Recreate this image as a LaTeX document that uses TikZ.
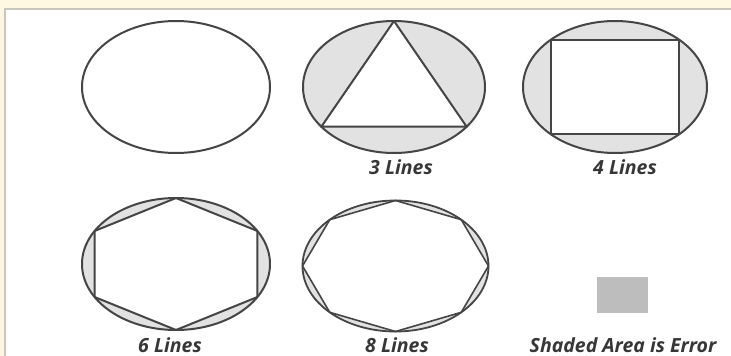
\documentclass[tikz,border=0pt]{standalone}
\usepackage{fontspec}
\setmainfont{Open Sans}
\usetikzlibrary{calc}
\definecolor{cream}{HTML}{FEF8E3}
\definecolor{frame}{HTML}{C9C7BD}
\definecolor{ink}{HTML}{454545}
\definecolor{errgray}{HTML}{E2E2E2}
\definecolor{legendgray}{HTML}{BDBDBD}
\tikzset{
  outline/.style={draw=ink, line width=2pt},
  chord/.style={draw=ink, line width=2pt, line join=round},
  lab/.style={font=\fontsize{19.5}{19.5}\selectfont\bfseries\itshape, text=ink!80!black, inner sep=0pt, anchor=center}
}
\begin{document}
\begin{tikzpicture}[x=1pt,y=-1pt]
\useasboundingbox (0,0) rectangle (731,356);
\fill[cream] (0,0) rectangle (731,356);
\fill[white] (5,9) rectangle (731,356);
\draw[frame, line width=1.5pt] (5,356) -- (5,9) -- (731,9);

% plain ellipse
\draw[outline] (176,87) ellipse [x radius=94, y radius=66];

% 3 lines
\coordinate (c3) at (394,87);
\fill[errgray] (c3) ellipse [x radius=91, y radius=66];
\path ($(c3)+(-90:91 and 66)$) coordinate (t1)
      ($(c3)+(-217:91 and 66)$) coordinate (t2)
      ($(c3)+(-323:91 and 66)$) coordinate (t3);
\fill[white] (t1) -- (t2) -- (t3) -- cycle;
\draw[chord] (t1) -- (t2) -- (t3) -- cycle;
\draw[outline] (c3) ellipse [x radius=91, y radius=66];
\node[lab] (l3) at (401,167) {3 Lines};

% 4 lines
\coordinate (c4) at (615,87);
\fill[errgray] (c4) ellipse [x radius=92, y radius=66];
\path ($(c4)+(-46:92 and 66)$) coordinate (r1)
      ($(c4)+(-134:92 and 66)$) coordinate (r2)
      ($(c4)+(134:92 and 66)$) coordinate (r3)
      ($(c4)+(46:92 and 66)$) coordinate (r4);
\fill[white] (r1) -- (r2) -- (r3) -- (r4) -- cycle;
\draw[chord] (r1) -- (r2) -- (r3) -- (r4) -- cycle;
\draw[outline] (c4) ellipse [x radius=92, y radius=66];
\node[lab] (l4) at (625,167) {4 Lines};

% 6 lines
\coordinate (c6) at (176,264);
\fill[errgray] (c6) ellipse [x radius=94, y radius=66];
\foreach \a [count=\i] in {90,30,-30,-90,-150,150}
  \path ($(c6)+(-\a:94 and 66)$) coordinate (h\i);
\fill[white] (h1) -- (h2) -- (h3) -- (h4) -- (h5) -- (h6) -- cycle;
\draw[chord] (h1) -- (h2) -- (h3) -- (h4) -- (h5) -- (h6) -- cycle;
\draw[outline] (c6) ellipse [x radius=94, y radius=66];
\node[lab] (l6) at (170,345) {6 Lines};

% 8 lines
\coordinate (c8) at (395.5,266);
\fill[errgray] (c8) ellipse [x radius=93, y radius=65.5];
\foreach \a [count=\i] in {90,45,0,-45,-90,-135,180,135}
  \path ($(c8)+(-\a:93 and 65.5)$) coordinate (o\i);
\fill[white] (o1) -- (o2) -- (o3) -- (o4) -- (o5) -- (o6) -- (o7) -- (o8) -- cycle;
\draw[chord, line width=1.6pt] (o1) -- (o2) -- (o3) -- (o4) -- (o5) -- (o6) -- (o7) -- (o8) -- cycle;
\draw[outline, line width=1.8pt] (c8) ellipse [x radius=93, y radius=65.5];
\node[lab] (l8) at (397,345) {8 Lines};

% legend
\fill[legendgray] (597,277) rectangle (648,313);
\node[lab] (ll) at (623,345) {Shaded Area is Error};
\end{tikzpicture}
\end{document}
